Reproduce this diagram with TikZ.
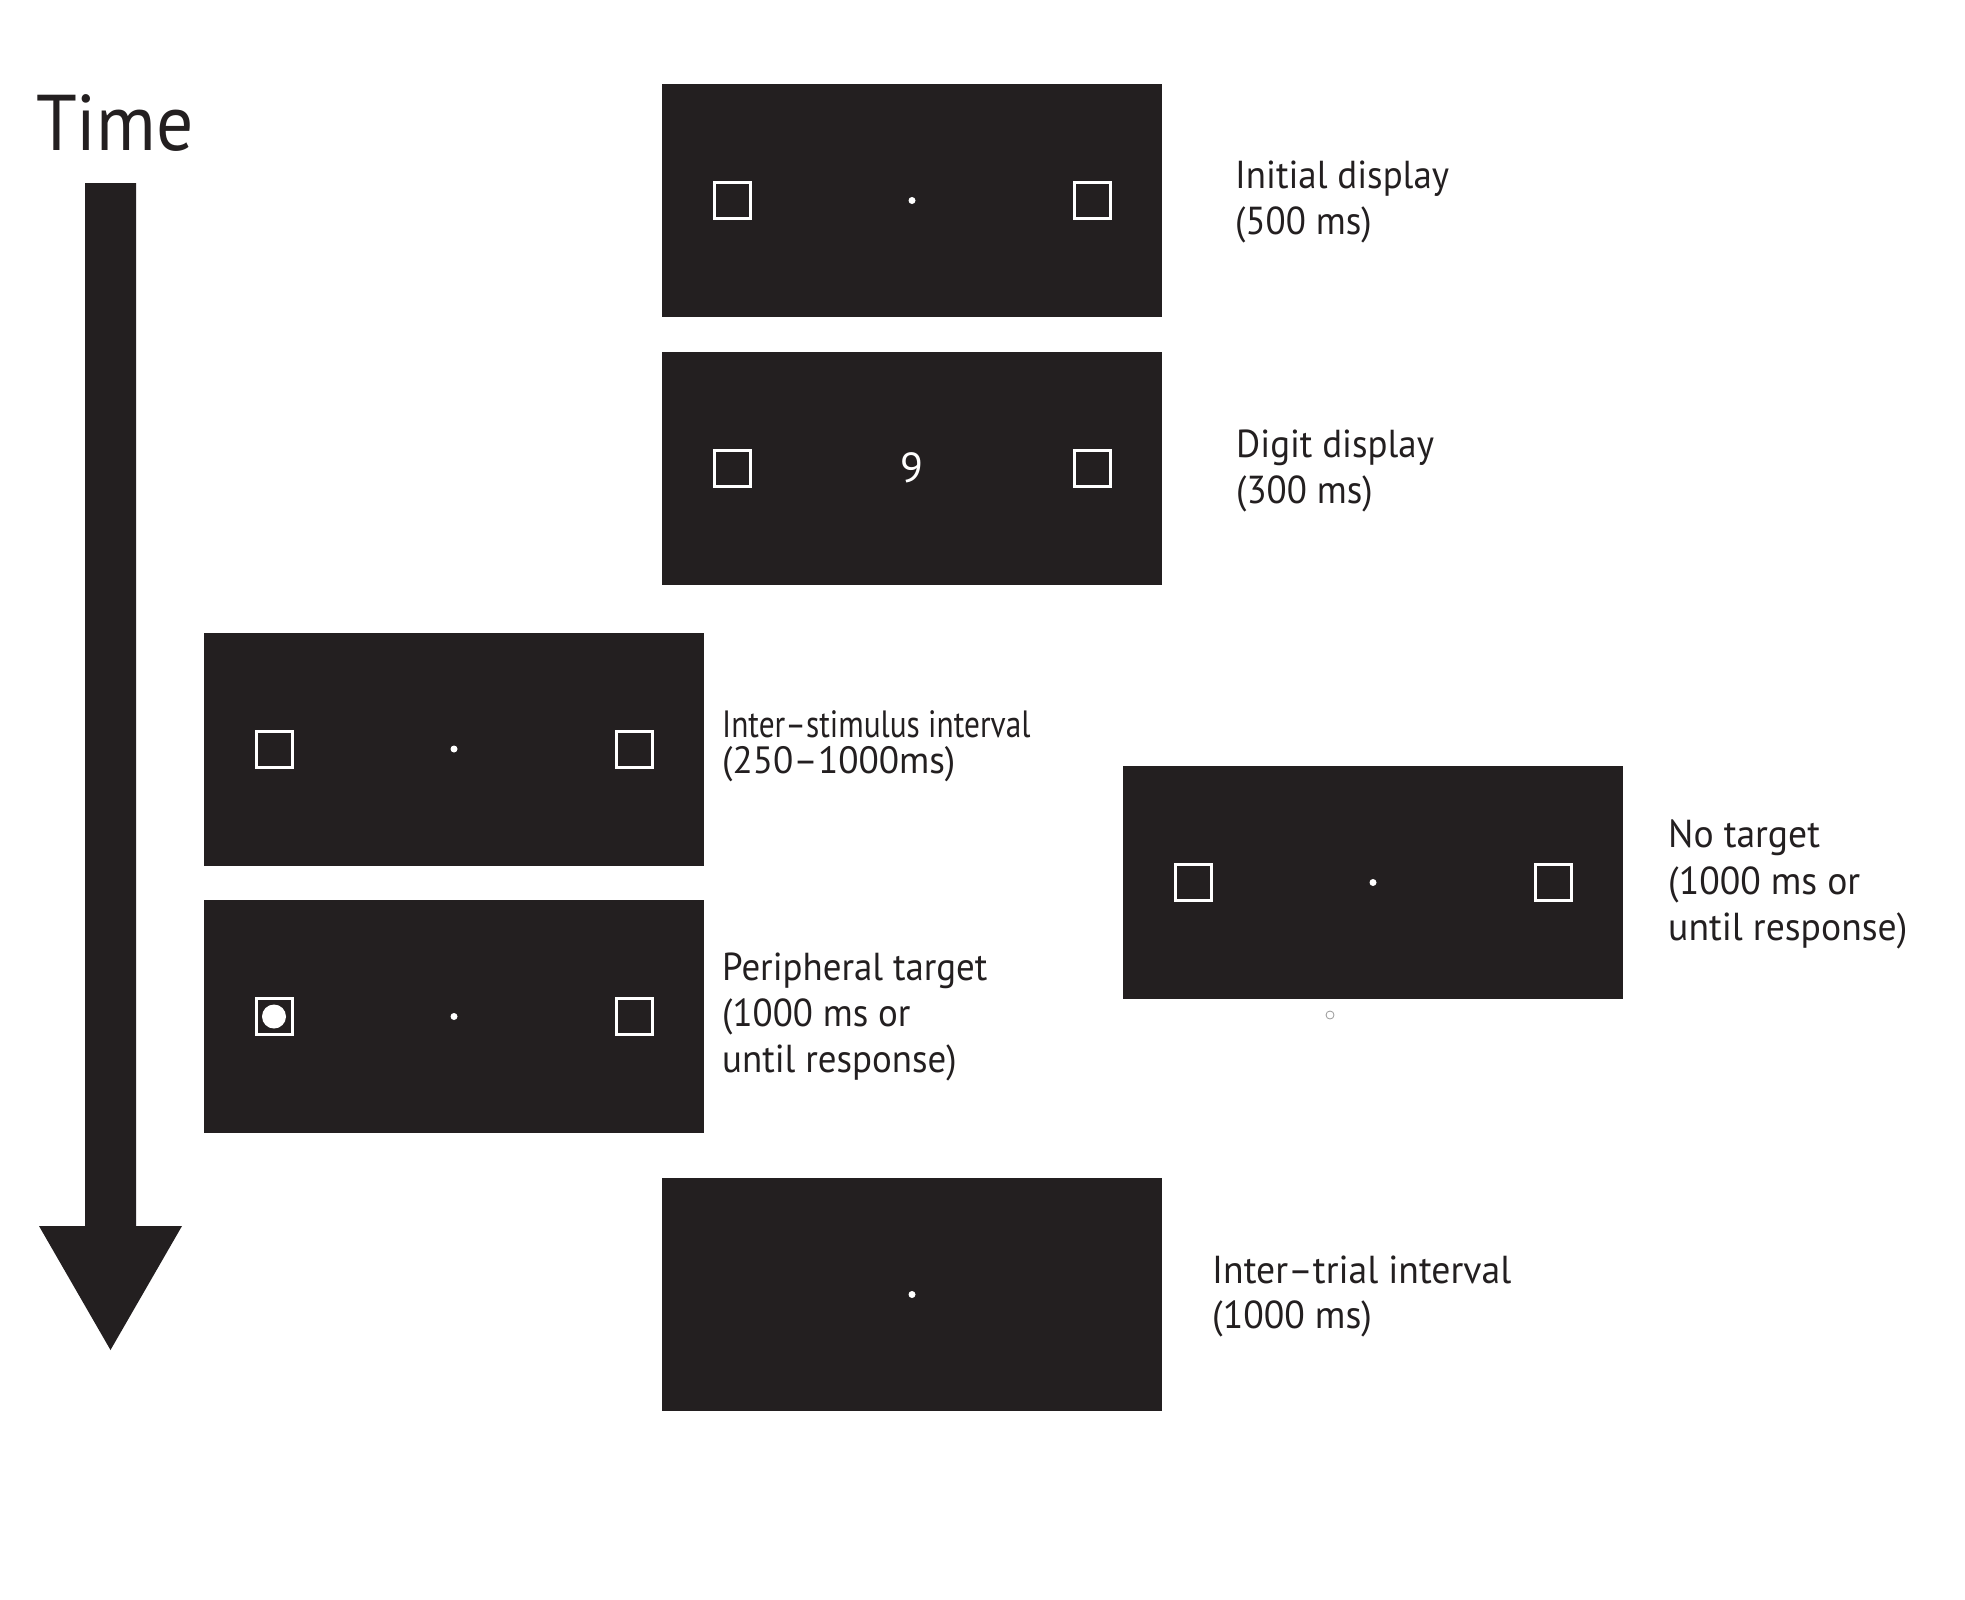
\documentclass[tikz,border=0pt]{standalone}
\usepackage{fontspec}
\setmainfont{PT Sans}
\definecolor{ink}{HTML}{231F20}
\newcommand{\sqz}[2]{\scalebox{#1}[1]{#2}}
\begin{document}
\begin{tikzpicture}[x=1pt,y=-1pt,
  screen/.style={fill=ink, draw=none, inner sep=0pt, outer sep=0pt, minimum width=500pt, minimum height=233pt},
  stimsq/.style={draw=white, line width=3pt, inner sep=0pt, minimum size=36pt},
  fixdot/.style={circle, fill=white, inner sep=0pt, minimum size=7pt},
  targetdisc/.style={circle, fill=white, inner sep=0pt, minimum size=24pt},
  lab/.style={text=ink, font=\fontsize{39}{46.5}\selectfont, anchor=base west, inner sep=0pt},
  labisi/.style={lab, font=\fontsize{38}{35.5}\selectfont, align=left},
  digit/.style={text=white, font=\fontsize{42}{42}\selectfont, inner sep=0pt}
]
\useasboundingbox (0,0) rectangle (1965,1600);
\fill[white] (0,0) rectangle (1965,1600);

% time arrow
\node[text=ink, font=\fontsize{79}{79}\selectfont, anchor=base west, inner sep=0pt] (time) at (36,150) {\sqz{0.93}{Time}};
\fill[ink] (85,183) -- (136,183) -- (136,1226) -- (182,1226) -- (110.5,1350) -- (39,1226) -- (85,1226) -- cycle;

% screens
\node[screen] (b1) at (912,200.5) {};
\node[screen] (b2) at (912,468) {};
\node[screen] (b3) at (454,749) {};
\node[screen] (b4) at (454,1016.5) {};
\node[screen] (b5) at (1373,882.5) {};
\node[screen] (b6) at (912,1294.5) {};

% initial display
\node[stimsq, xshift=-180pt] (b1l) at (b1) {};
\node[stimsq, xshift=180pt] (b1r) at (b1) {};
\node[fixdot] (b1f) at (b1) {};
% digit display
\node[stimsq, xshift=-180pt] (b2l) at (b2) {};
\node[stimsq, xshift=180pt] (b2r) at (b2) {};
\node[digit] (b2d) at (b2) {9};
% ISI
\node[stimsq, xshift=-180pt] (b3l) at (b3) {};
\node[stimsq, xshift=180pt] (b3r) at (b3) {};
\node[fixdot] (b3f) at (b3) {};
% peripheral target
\node[stimsq, xshift=-180pt] (b4l) at (b4) {};
\node[targetdisc] (b4t) at (b4l) {};
\node[stimsq, xshift=180pt] (b4r) at (b4) {};
\node[fixdot] (b4f) at (b4) {};
% no target
\node[stimsq, xshift=-180pt] (b5l) at (b5) {};
\node[stimsq, xshift=180pt] (b5r) at (b5) {};
\node[fixdot] (b5f) at (b5) {};
\node[circle, draw=black!40, line width=0.8pt, inner sep=0pt, minimum size=8pt] (stray) at (1330,1015) {};
% ITI
\node[fixdot] (b6f) at (b6) {};

% labels
\node[lab] (l1a) at (1235,188) {\sqz{0.947}{Initial display}};
\node[lab] (l1b) at (1235,234) {\sqz{0.947}{(500 ms)}};
\node[lab] (l2a) at (1236,457) {\sqz{0.947}{Digit display}};
\node[lab] (l2b) at (1236,503) {\sqz{0.947}{(300 ms)}};
\node[labisi] (l3) at (722,773) {\sqz{0.825}{Inter–stimulus interval}\\\sqz{0.979}{(250–1000ms)}};
\node[lab] (l4a) at (722,980) {\sqz{0.946}{Peripheral target}};
\node[lab] (l4b) at (722,1026.5) {\sqz{0.946}{(1000 ms or}};
\node[lab] (l4c) at (722,1072) {\sqz{0.946}{until response)}};
\node[lab] (l5a) at (1668,847.5) {\sqz{0.965}{No target}};
\node[lab] (l5b) at (1668,894) {\sqz{0.965}{(1000 ms or}};
\node[lab] (l5c) at (1668,940.5) {\sqz{0.965}{until response)}};
\node[lab] (l6a) at (1212,1283) {\sqz{0.966}{Inter–trial interval}};
\node[lab] (l6b) at (1212,1328) {\sqz{0.966}{(1000 ms)}};
\end{tikzpicture}
\end{document}
